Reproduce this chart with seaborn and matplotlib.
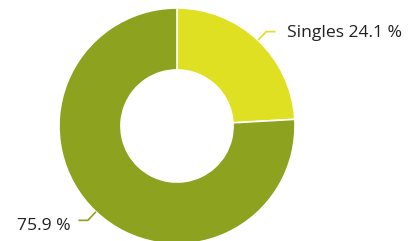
import numpy as np
import matplotlib
matplotlib.use('Agg')
import matplotlib.pyplot as plt
import seaborn as sns

# Data
labels = ['Singles', '']
shares = [24.1, 75.9]
colors = ['#e0e022', '#8da21f']

sns.set_theme(style='white')
plt.rcParams['font.family'] = ['Open Sans', 'DejaVu Sans']

W, H = 411, 241
fig = plt.figure(figsize=(W / 100, H / 100), dpi=100)
ax = fig.add_axes([0, 0, 1, 1])

# pie centre / radius in pixels
cx, cy, r = 177, 126, 118

wedges, _ = ax.pie(shares, colors=colors, startangle=90, counterclock=False,
                   radius=1, wedgeprops=dict(width=0.525, edgecolor='white', linewidth=1.2))
ax.set_aspect('auto')
ax.set_xlim(-cx / r, (W - cx) / r)
ax.set_ylim(-(H - cy) / r, cy / r)
ax.axis('off')

start = 90
for lab, val, col in zip(labels, shares, colors):
    mid = np.deg2rad(start - val * 3.6 / 2)
    start -= val * 3.6
    x0, y0 = np.cos(mid), np.sin(mid)
    x1, y1 = 1.1 * x0, 1.1 * y0
    side = 1 if x0 > 0 else -1
    x2 = x1 + side * 0.08
    ax.plot([x0, x1, x2], [y0, y1, y1], color=col, lw=1.2, solid_capstyle='butt')
    txt = f'{lab} {val} %'.strip()
    gap = 0.1 if side > 0 else 0.07
    ty = y1 - 0.01 if y1 > 0 else y1 - 0.05
    ax.text(x2 + side * gap, ty, txt, ha='left' if side > 0 else 'right',
            va='center', fontsize=12.6, color='#222222')

fig.savefig('out.png', dpi=100)
